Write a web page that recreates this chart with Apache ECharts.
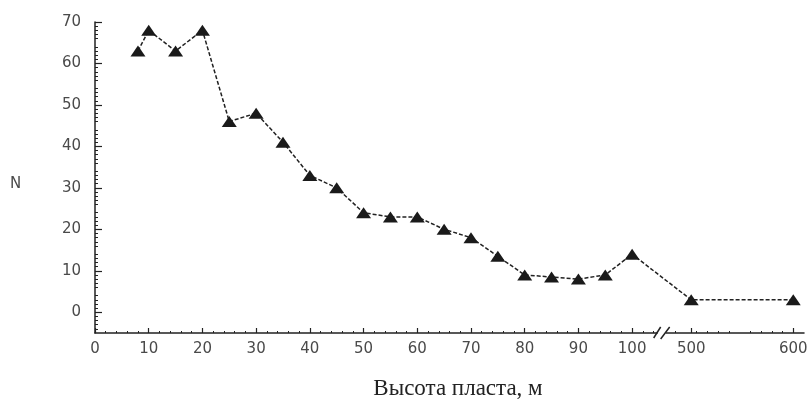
<!DOCTYPE html>
<html>
<head>
<meta charset="utf-8">
<script src="https://cdn.jsdelivr.net/npm/echarts@6/dist/echarts.min.js"></script>
<style>html,body{margin:0;padding:0;background:#fff;}#c{width:811px;height:399px;}</style>
</head>
<body>
<div id="c"></div>
<script>
// Layer height (m) and count N
const heights = [8, 10, 15, 20, 25, 30, 35, 40, 45, 50, 55, 60, 65, 70, 75, 80, 85, 90, 95, 100, 500, 600];
const counts  = [63, 68, 63, 68, 46, 48, 41, 33, 30, 24, 23, 23, 20, 18, 13.5, 9, 8.5, 8, 9, 14, 3, 3];
const xTickLabels = [0, 10, 20, 30, 40, 50, 60, 70, 80, 90, 100, 500, 600];
const yTickLabels = [0, 10, 20, 30, 40, 50, 60, 70];

// broken x axis: 0..100 linear, then 500..600 compressed
const BREAK_AT = 111, COMPRESS = 0.19;
function mapX(v) { return v <= 100 ? v : BREAK_AT + (v - 500) * COMPRESS; }
function unmapX(v) { return v <= 100 ? v : Math.round(500 + (v - BREAK_AT) / COMPRESS); }

const chart = echarts.init(document.getElementById('c'), null, {renderer: 'canvas'});
const axisColor = '#222';
const labelFont = {fontFamily: 'DejaVu Sans', fontSize: 15, color: '#4a4a4a'};

const texts = [
  {type: 'text', left: 10, top: 177, style: {text: 'N', font: '15px "DejaVu Sans"', fill: '#4a4a4a'}},
  {type: 'text', x: 458, y: 389, style: {text: 'Высота пласта, м', font: '23px "Liberation Serif"', fill: '#222', textAlign: 'center', textVerticalAlign: 'middle'}}
];

chart.setOption({
  animation: false,
  backgroundColor: '#fff',
  grid: {left: 95, right: 7, top: 22, bottom: 66},
  xAxis: {
    type: 'value', min: 0, max: 132, interval: 10,
    axisLine: {onZero: false, lineStyle: {color: axisColor, width: 1.5}},
    axisTick: {inside: true, length: 5, customValues: xTickLabels.map(mapX), lineStyle: {color: axisColor, width: 1.2}},
    minorTick: {show: true, splitNumber: 5, length: 2, lineStyle: {color: axisColor}},
    axisLabel: Object.assign({margin: 9, customValues: xTickLabels.map(mapX), formatter: v => String(unmapX(v))}, labelFont),
    splitLine: {show: false}
  },
  yAxis: {
    type: 'value', min: -5, max: 70, interval: 5,
    axisLine: {lineStyle: {color: axisColor, width: 1.5}},
    axisTick: {inside: true, length: 7, customValues: yTickLabels, lineStyle: {color: axisColor, width: 1.2}},
    minorTick: {show: true, splitNumber: 5, length: 3, lineStyle: {color: axisColor}},
    axisLabel: Object.assign({margin: 14, customValues: yTickLabels}, labelFont),
    splitLine: {show: false}
  },
  series: [{
    type: 'line',
    data: heights.map((h, i) => [mapX(h), counts[i]]),
    symbol: 'triangle',
    symbolSize: [15, 11],
    itemStyle: {color: '#1a1a1a'},
    lineStyle: {color: '#222', width: 1.5, type: [4, 2]}
  }],
  graphic: texts
});

// axis break marks
const p = chart.convertToPixel({xAxisIndex: 0, yAxisIndex: 0}, [105.5, -5]);
chart.setOption({graphic: texts.concat([
  {type: 'rect', shape: {x: p[0] - 4, y: p[1] - 3, width: 8, height: 6}, style: {fill: '#fff'}, z: 100},
  {type: 'line', shape: {x1: p[0] - 8, y1: p[1] + 5, x2: p[0] - 1, y2: p[1] - 6}, style: {stroke: '#222', lineWidth: 1.5}, z: 101},
  {type: 'line', shape: {x1: p[0] - 1, y1: p[1] + 6, x2: p[0] + 8, y2: p[1] - 6}, style: {stroke: '#222', lineWidth: 1.5}, z: 101}
])});
</script>
</body>
</html>
